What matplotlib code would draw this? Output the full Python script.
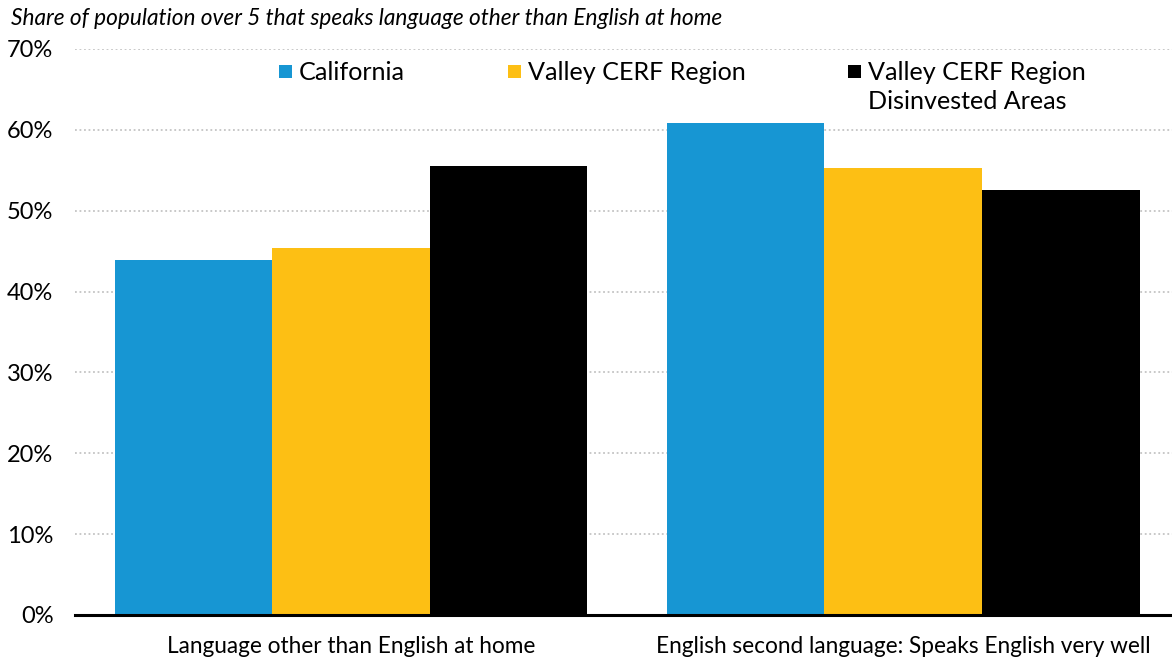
import matplotlib
matplotlib.use("Agg")
import matplotlib.pyplot as plt
from matplotlib.patches import Rectangle
import numpy as np

plt.rcParams['font.family'] = ['Lato', 'DejaVu Sans']

categories = ["Language other than English at home",
              "English second language: Speaks English very well"]
series_names = ["California", "Valley CERF Region",
                "Valley CERF Region\nDisinvested Areas"]
california = [43.9, 60.8]
valley = [45.4, 55.3]
disinvested = [55.5, 52.6]
y_ticks = [0, 10, 20, 30, 40, 50, 60, 70]
title = "Share of population over 5 that speaks language other than English at home"

colors = ["#1796D3", "#FDBF14", "#000000"]

W, H = 1172, 660
fig = plt.figure(figsize=(W / 100, H / 100), dpi=100)
ax = fig.add_axes([0.064, 0.0682, 0.936, 0.8576])

x = np.arange(len(categories))
width = 0.2855
for i, (vals, c, name) in enumerate(zip([california, valley, disinvested], colors, series_names)):
    ax.bar(x + (i - 1) * width, vals, width, color=c, label=name, zorder=3)

ax.set_xlim(-0.5, 1.487)
ax.set_ylim(0, 70)
ax.set_yticks(y_ticks)
ax.set_yticklabels([f"{t}%" for t in y_ticks])
ax.set_xticks(x)
ax.set_xticklabels(categories)
ax.tick_params(axis='y', length=0, labelsize=17, pad=15.5, colors='#000000')
ax.tick_params(axis='x', length=0, labelsize=16.3, pad=15)
ax.grid(axis='y', color='#C4C4C4', linestyle=(0, (1, 1.5)), linewidth=1.3, zorder=0)
for s in ['top', 'right', 'left']:
    ax.spines[s].set_visible(False)
ax.spines['bottom'].set_linewidth(2.2)
ax.spines['bottom'].set_zorder(4)

# Legend drawn as swatches plus text, positioned in pixel units
def px(xp, yp):
    return xp / W, 1 - yp / H

legend_x = [279, 508, 848]
for lx, c, name in zip(legend_x, colors, series_names):
    sx, sy = px(lx, 78)
    fig.patches.append(Rectangle((sx, sy), 13 / W, 13 / H, transform=fig.transFigure,
                                 facecolor=c, edgecolor='none'))
    for k, line in enumerate(name.split("\n")):
        tx, ty = px(lx + 20, 80 + 29 * k)
        fig.text(tx, ty, line, fontsize=18.1, ha='left', va='baseline')

fig.text(0.009, 0.972, title, fontsize=16.3, style='italic', ha='left', va='center')

fig.savefig("out.png", dpi=100)
